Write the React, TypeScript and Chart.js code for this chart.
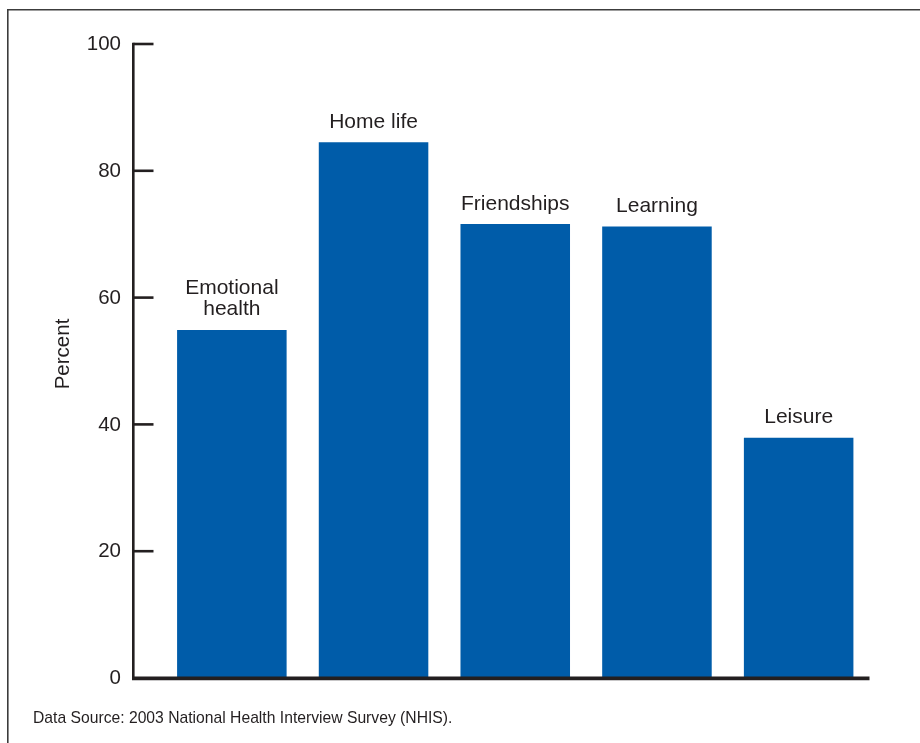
import React, { useEffect, useRef } from "react";
import { Chart, registerables } from "chart.js";

Chart.register(...registerables);

const categories = ["Emotional health", "Home life", "Friendships", "Learning", "Leisure"];
const categoryLines = [["Emotional", "health"], ["Home life"], ["Friendships"], ["Learning"], ["Leisure"]];
const percentValues = [54.9, 84.5, 71.6, 71.2, 37.9];
const yTicks = [0, 20, 40, 60, 80, 100];
const yAxisTitle = "Percent";
const sourceNote = "Data Source: 2003 National Health Interview Survey (NHIS).";

const TEXT = "#231f20";
const FONT = "Liberation Sans, Arial, Helvetica, sans-serif";

const decorPlugin = {
  id: "decor",
  afterDatasetsDraw(chart: any) {
    const ctx = chart.ctx;
    const y = chart.scales.y;
    const area = chart.chartArea;
    const axisX = 133.3;
    ctx.save();
    // frame
    ctx.strokeStyle = "#3c3c3c";
    ctx.lineWidth = 1.6;
    ctx.beginPath();
    ctx.moveTo(7.8, 760);
    ctx.lineTo(7.8, 9.8);
    ctx.lineTo(940, 9.8);
    ctx.stroke();

    // y axis line
    ctx.strokeStyle = TEXT;
    ctx.lineWidth = 2.6;
    ctx.beginPath();
    ctx.moveTo(axisX, y.getPixelForValue(100) - 1.2);
    ctx.lineTo(axisX, y.getPixelForValue(0));
    ctx.stroke();

    // ticks and labels
    ctx.fillStyle = TEXT;
    ctx.font = `20.5px ${FONT}`;
    ctx.textAlign = "right";
    ctx.textBaseline = "middle";
    yTicks.forEach((t) => {
      const py = y.getPixelForValue(t);
      if (t !== 0) {
        ctx.beginPath();
        ctx.lineWidth = 2.6;
        ctx.moveTo(axisX, py);
        ctx.lineTo(153.5, py);
        ctx.stroke();
      }
      ctx.fillText(String(t), 121, py + 0.5);
    });

    // x axis line
    ctx.lineWidth = 3.6;
    ctx.beginPath();
    const y0 = y.getPixelForValue(0) + 0.4;
    ctx.moveTo(axisX - 1.3, y0);
    ctx.lineTo(area.right, y0);
    ctx.stroke();

    // bar labels
    ctx.textAlign = "center";
    ctx.textBaseline = "alphabetic";
    ctx.font = `21px ${FONT}`;
    const meta = chart.getDatasetMeta(0);
    meta.data.forEach((bar: any, i: number) => {
      const lines = categoryLines[i];
      const base = bar.y - 14.5;
      for (let k = 0; k < lines.length; k++) {
        const ly = base - (lines.length - 1 - k) * 21;
        ctx.fillText(lines[k], bar.x, ly);
      }
    });

    // y axis title
    ctx.save();
    ctx.translate(63, 354);
    ctx.rotate(-Math.PI / 2);
    ctx.textAlign = "center";
    ctx.textBaseline = "middle";
    ctx.font = `20.5px ${FONT}`;
    ctx.fillText(yAxisTitle, 0, 0);
    ctx.restore();

    // source
    ctx.textAlign = "left";
    ctx.textBaseline = "middle";
    ctx.font = `15.7px ${FONT}`;
    ctx.fillText(sourceNote, 33, 719);
    ctx.restore();
  },
};

export default function App() {
  const ref = useRef<HTMLCanvasElement>(null);
  useEffect(() => {
    if (!ref.current) return;
    const chart = new Chart(ref.current, {
      type: "bar",
      data: {
        labels: categories,
        datasets: [
          {
            data: percentValues,
            backgroundColor: "#005ca9",
            borderWidth: 0,
            categoryPercentage: 1,
            barPercentage: 0.773,
          },
        ],
      },
      options: {
        animation: false,
        responsive: false,
        layout: { padding: { left: 161, right: 50.5, top: 44, bottom: 65 } },
        plugins: { legend: { display: false }, tooltip: { enabled: false } },
        scales: {
          x: { display: false },
          y: { display: false, min: 0, max: 100 },
        },
      },
      plugins: [decorPlugin],
    });
    return () => chart.destroy();
  }, []);
  return (
    <div style={{ position: "absolute", left: 0, top: 0, width: 920, height: 743, background: "#fff" }}>
      <canvas ref={ref} width={920} height={743} />
    </div>
  );
}
